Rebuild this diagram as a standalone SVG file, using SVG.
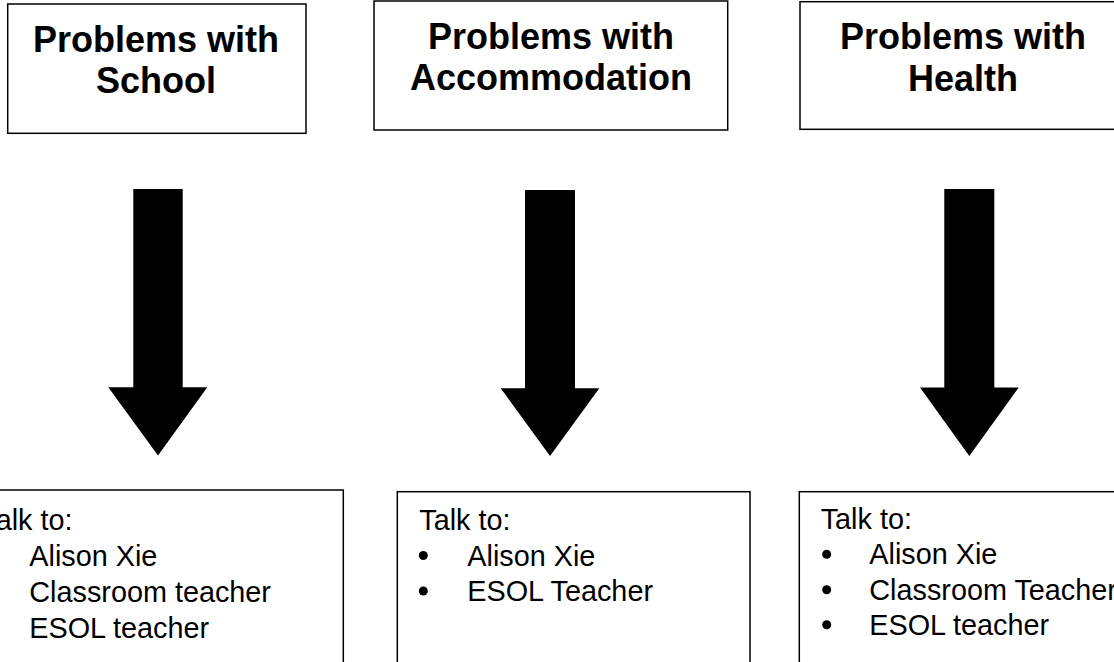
<svg xmlns="http://www.w3.org/2000/svg" width="1114" height="662" viewBox="0 0 1114 662">
<style>
.box{fill:#fff;stroke:#000;stroke-width:1.5}
.title{font-family:"Liberation Sans",Arial,sans-serif;font-weight:bold;font-size:36px;fill:#000;text-anchor:middle}
.body{font-family:"Liberation Sans",Arial,sans-serif;font-size:28.8px;fill:#000}
.arrow{fill:#000}
</style>
<rect width="1114" height="662" fill="#fff"/>
<g id="top-school">
<rect class="box" x="7.7" y="4" width="298.3" height="129.3"/>
<text class="title" x="156" y="51.5">Problems with</text>
<text class="title" x="156" y="93">School</text>
</g>
<g id="top-accommodation">
<rect class="box" x="374" y="1" width="353.7" height="129"/>
<text class="title" x="551" y="48.5">Problems with</text>
<text class="title" x="551" y="90">Accommodation</text>
</g>
<g id="top-health">
<rect class="box" x="800" y="1.7" width="326" height="127.6"/>
<text class="title" x="963" y="49">Problems with</text>
<text class="title" x="963" y="90.5">Health</text>
</g>
<g id="connectors">
<polygon class="arrow" points="133.3,189 182.7,189 182.7,387.3 207.3,387.3 158,455.5 108.3,387.3 133.3,387.3"/>
<polygon class="arrow" points="525,190 575,190 575,388.3 599.3,388.3 550,456 500.7,388.3 525,388.3"/>
<polygon class="arrow" points="944.3,189 994.3,189 994.3,387.5 1018.7,387.5 969.3,456 920,387.5 944.3,387.5"/>
</g>
<g id="bottom-school">
<rect class="box" x="-40.7" y="490" width="384" height="190"/>
<text class="body" x="-18.7" y="529.5">Talk to:</text>
<circle cx="-14.7" cy="555" r="4.5"/>
<circle cx="-14.7" cy="591" r="4.5"/>
<circle cx="-14.7" cy="627" r="4.5"/>
<text class="body" x="29.3" y="565.5">Alison Xie</text>
<text class="body" x="29.3" y="601.5">Classroom teacher</text>
<text class="body" x="29.3" y="637.5">ESOL teacher</text>
</g>
<g id="bottom-accommodation">
<rect class="box" x="397.3" y="491.7" width="352.7" height="190"/>
<text class="body" x="419.3" y="530">Talk to:</text>
<circle cx="423.3" cy="555.5" r="4.5"/>
<circle cx="423.3" cy="591" r="4.5"/>
<text class="body" x="467.3" y="565.5">Alison Xie</text>
<text class="body" x="467.3" y="601">ESOL Teacher</text>
</g>
<g id="bottom-health">
<rect class="box" x="799.3" y="491.7" width="340" height="190"/>
<text class="body" x="820.7" y="529">Talk to:</text>
<circle cx="826.7" cy="554.2" r="4.5"/>
<circle cx="826.7" cy="589.8" r="4.5"/>
<circle cx="826.7" cy="624.8" r="4.5"/>
<text class="body" x="869.3" y="564.2">Alison Xie</text>
<text class="body" x="869.3" y="599.8">Classroom Teacher</text>
<text class="body" x="869.3" y="634.8">ESOL teacher</text>
</g>
</svg>
